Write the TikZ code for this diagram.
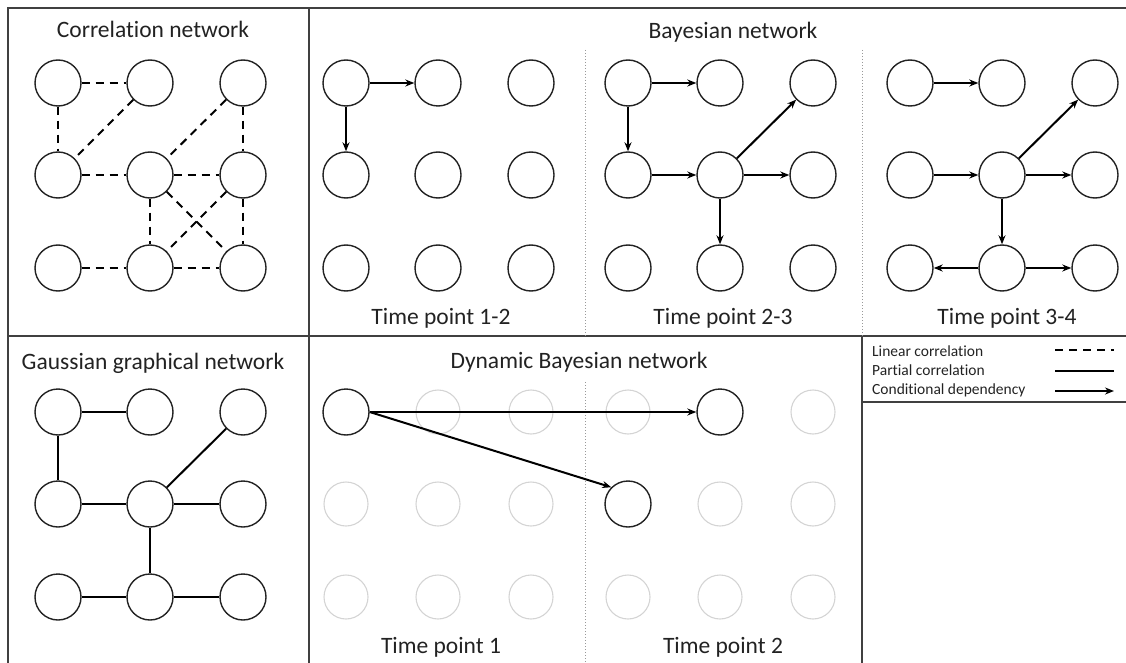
\documentclass[tikz,border=0pt]{standalone}
\usepackage{fontspec}
\setmainfont{Carlito}[RawFeature={-liga;-clig;-dlig;-calt}]
\usetikzlibrary{positioning}
\usetikzlibrary{arrows.meta}
\definecolor{frame}{HTML}{404040}
\definecolor{ghost}{HTML}{D4D4D4}
\definecolor{ink}{HTML}{222222}
\tikzset{
  % A variable in a network
  var/.style={circle, draw=ink, line width=1.4pt, minimum size=46pt, inner sep=0pt},
  % A variable that takes no part in the panel
  faded/.style={circle, draw=ghost, line width=1.1pt, minimum size=44pt, inner sep=0pt},
  % Relationships
  lincor/.style={draw=black, line width=2pt, dash pattern=on 8pt off 6pt},
  parcor/.style={draw=black, line width=2pt},
  cond/.style={-{Stealth[length=9pt, width=7pt]}, draw=black, line width=2pt},
  % Texts
  title/.style={font=\fontsize{23.5}{28}\selectfont, text=ink, anchor=base, inner sep=0pt},
  keytext/.style={font=\fontsize{15.5}{18}\selectfont, text=ink, anchor=base west, inner sep=0pt},
  % Panel borders
  panel/.style={draw=frame, line width=2pt},
  split/.style={draw=black!40, line width=1pt, dotted},
}

\begin{document}
\begin{tikzpicture}[x=1pt, y=-1pt]
\useasboundingbox (0,0) rectangle (1126,663);

% panel borders
\draw[panel] (8,663) -- (8,8) -- (1126,8);
\draw[panel] (309,8) -- (309,663);
\draw[panel] (8,336) -- (1126,336);
\draw[panel] (862,336) -- (862,663);
\draw[panel] (862,402) -- (1126,402);
\draw[split] (585,50) -- (585,336);
\draw[split] (862,50) -- (862,336);
\draw[split] (585,382) -- (585,663);

% titles
\node[title] (cortitle) at (153,38) {Correlation network};
\node[title] (bntitle) at (733,39) {Bayesian network};
\node[title] (ggmtitle) at (153,369) {Gaussian graphical network};
\node[title] (dbntitle) at (579,368) {Dynamic Bayesian network};
\node[title] (tpa) at (441,324) {Time point 1-2};
\node[title] (tpb) at (723,324) {Time point 2-3};
\node[title] (tpc) at (1007,324) {Time point 3-4};
\node[title] (tpone) at (441,653) {Time point 1};
\node[title] (tptwo) at (723,653) {Time point 2};

% the 3x3 networks
\foreach \net/\x/\y in {cor/58/83, bna/346/83, bnb/628/83, bnc/910/83, ggm/58/412}
  \foreach \r/\dy in {1/0,2/92,3/185}
    \foreach \c/\dx in {1/0,2/92,3/185}
      \node[var] (\net\r\c) at (\x+\dx, \y+\dy) {};

% dynamic network over two time points
\foreach \r/\c/\x/\y in {1/2/438/412, 1/3/531/412, 1/4/628/412, 1/6/813/412,
    2/1/346/504, 2/2/438/504, 2/3/531/504, 2/5/720/504, 2/6/813/504,
    3/1/346/597, 3/2/438/597, 3/3/531/597, 3/4/628/597, 3/5/720/597, 3/6/813/597}
  \node[faded] (dbn\r\c) at (\x,\y) {};
\foreach \r/\c/\x/\y in {1/1/346/412, 1/5/720/412, 2/4/628/504}
  \node[var] (dbn\r\c) at (\x,\y) {};

% edges
\foreach \a/\b in {11/12,11/21,12/21,13/22,13/23,21/22,22/23,22/32,22/33,23/32,23/33,31/32,32/33}
  \draw[lincor] (cor\a) -- (cor\b);
\foreach \a/\b in {11/12,11/21}
  \draw[cond] (bna\a) -- (bna\b);
\foreach \a/\b in {11/12,11/21,21/22,22/13,22/23,22/32}
  \draw[cond] (bnb\a) -- (bnb\b);
\foreach \a/\b in {11/12,21/22,22/13,22/23,22/32,32/31,32/33}
  \draw[cond] (bnc\a) -- (bnc\b);
\foreach \a/\b in {11/12,11/21,13/22,21/22,22/23,22/32,31/32,32/33}
  \draw[parcor] (ggm\a) -- (ggm\b);
\draw[cond] (dbn11) -- (dbn15);
\draw[cond] (dbn11.east) -- (dbn24.north west);

% legend
\node[keytext] (klin) at (872,356) {Linear correlation};
\node[keytext] (kpar) at (872,375) {Partial correlation};
\node[keytext] (kcond) at (872,394) {Conditional dependency};
\coordinate (lina) at (1055,350);
\coordinate (linb) at (1114,350);
\coordinate (para) at (1055,371);
\coordinate (parb) at (1114,371);
\coordinate (conda) at (1055,391);
\coordinate (condb) at (1114,391);
\draw[lincor] (lina) -- (linb);
\draw[parcor] (para) -- (parb);
\draw[cond] (conda) -- (condb);

\end{tikzpicture}
\end{document}
